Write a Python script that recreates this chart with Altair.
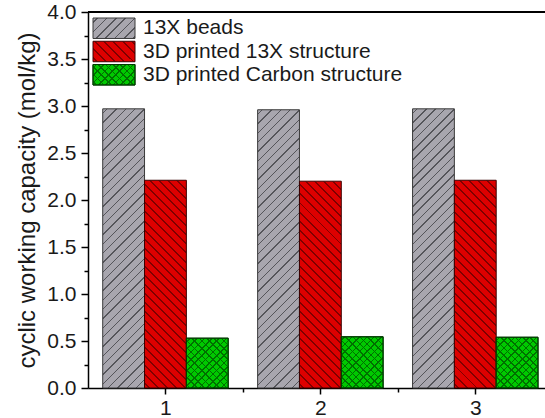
import math
import altair as alt
import pandas as pd

# ---------------- data ----------------
cycles = [1, 2, 3]
series = ["13X beads", "3D printed 13X structure", "3D printed Carbon structure"]
beads = [2.97, 2.96, 2.97]
printed_13x = [2.21, 2.20, 2.21]
printed_carbon = [0.53, 0.545, 0.54]
y_major = [0.0, 0.5, 1.0, 1.5, 2.0, 2.5, 3.0, 3.5, 4.0]
y_minor = [0.25, 0.75, 1.25, 1.75, 2.25, 2.75, 3.25, 3.75]
x_major = [1, 2, 3]
x_minor = [1.5, 2.5]

values_by_series = dict(zip(series, [beads, printed_13x, printed_carbon]))
rows = []
for i, c in enumerate(cycles):
    for s in series:
        rows.append({"cycle": c, "series": s, "value": values_by_series[s][i]})
df = pd.DataFrame(rows)
legend_df = pd.DataFrame({"series": series})

# ---------------- geometry / style ----------------
W, H = 457, 376
XMIN, XMAX = 0.5, 3.45
YMAX = 4.0
PX = W / (XMAX - XMIN)
PY = H / YMAX
BAR = 0.27
offsets = dict(zip(series, [-BAR, 0.0, BAR]))
FONT = "Liberation Sans"

styles = {
    "13X beads": dict(base="#a8a6ae", line="#55555a", dirs=["/"], sp=6.6, lw=1.0, stroke="#3a3a3a"),
    "3D printed 13X structure": dict(base="#de0000", line="#800000", dirs=["\\"], sp=6.4, lw=1.4, stroke="#3a0000"),
    "3D printed Carbon structure": dict(base="#00c900", line="#007000", dirs=["/", "\\"], sp=5.2, lw=1.1, stroke="#003a00"),
}


def hatch(base, line, w, h, d, sp, lw):
    L = w + h
    dt = sp * math.sqrt(2) / L
    lt = lw * math.sqrt(2) / L
    stops = [{"offset": 0, "color": base}]
    t = dt / 2
    while t + lt / 2 < 1:
        a = max(t - lt / 2, 0.0)
        b = t + lt / 2
        stops += [
            {"offset": round(a, 5), "color": base},
            {"offset": round(a, 5), "color": line},
            {"offset": round(b, 5), "color": line},
            {"offset": round(b, 5), "color": base},
        ]
        t += dt
    stops.append({"offset": 1, "color": base})
    k = L / (w * w + h * h)
    if d == "/":
        x1, y1, x2, y2 = 0, 0, k * w, k * h
    else:
        x1, y1, x2, y2 = 0, 1, k * w, 1 - k * h
    return {"gradient": "linear", "x1": x1, "y1": y1, "x2": x2, "y2": y2, "stops": stops}


xscale = alt.Scale(domain=[XMIN, XMAX], nice=False, zero=False)
yscale = alt.Scale(domain=[0, YMAX], nice=False)
base = alt.Chart(df)

layers = []
for s in series:
    st = styles[s]
    off = offsets[s]
    for ci, c in enumerate(cycles):
        v = values_by_series[s][ci]
        w = BAR * PX
        h = v * PY
        for hi, d in enumerate(st["dirs"]):
            fill = hatch(st["base"] if hi == 0 else "rgba(0,0,0,0)", st["line"], w, h, d, st["sp"], st["lw"])
            layers.append(
                base.transform_filter(f"datum.series == '{s}' && datum.cycle == {c}")
                .transform_calculate(x0=f"datum.cycle + {off - BAR / 2}", x1=f"datum.cycle + {off + BAR / 2}")
                .mark_rect(fill=fill, stroke=st["stroke"], strokeWidth=1)
                .encode(
                    x=alt.X("x0:Q", scale=xscale, axis=None),
                    x2="x1:Q",
                    y=alt.Y("value:Q", scale=yscale, axis=None),
                    y2=alt.datum(0),
                )
            )

axis_major = base.mark_point(opacity=0).encode(
    x=alt.X("cycle:Q", scale=xscale, axis=alt.Axis(
        orient="bottom", values=x_major, format="d", tickSize=6, tickWidth=1.5, tickColor="#000",
        domainColor="#000", domainWidth=1.5, labelFont=FONT, labelFontSize=21, labelColor="#1a1a1a",
        labelPadding=3, grid=False, title=None)),
    y=alt.Y("value:Q", scale=yscale, axis=alt.Axis(
        orient="left", values=y_major, format=".1f", tickSize=7, tickWidth=1.5, tickColor="#000",
        domainColor="#000", domainWidth=1.5, labelFont=FONT, labelFontSize=21, labelColor="#1a1a1a",
        labelPadding=5, grid=False, title="cyclic working capacity (mol/kg)", titleFont=FONT,
        titleFontSize=24, titleFontWeight="normal", titleColor="#1a1a1a", titlePadding=7)),
)
axis_minor = base.mark_point(opacity=0).encode(
    x=alt.X("cycle:Q", scale=xscale, axis=alt.Axis(
        orient="bottom", values=x_minor, labels=False, domain=False, tickSize=4, tickWidth=1.5,
        tickColor="#000", grid=False, title=None)),
    y=alt.Y("value:Q", scale=yscale, axis=alt.Axis(
        orient="left", values=y_minor, labels=False, domain=False, tickSize=4, tickWidth=1.5,
        tickColor="#000", grid=False, title=None)),
)

frame = base.mark_rule(color="#000", strokeWidth=1.5).encode(
    x=alt.value(0), x2=alt.value(W), y=alt.value(0)
)

plot = alt.layer(*layers, axis_major, axis_minor, frame).resolve_axis(x="independent", y="independent")

# ---------------- legend ----------------
lscale = alt.Scale(domain=series, range=[6, 73], paddingInner=0.12, paddingOuter=0)
lbase = alt.Chart(legend_df)
leg_layers = []
for s in series:
    st = styles[s]
    for hi, d in enumerate(st["dirs"]):
        fill = hatch(st["base"] if hi == 0 else "rgba(0,0,0,0)", st["line"], 42, 20.5, d, st["sp"], st["lw"])
        leg_layers.append(
            lbase.transform_filter(f"datum.series == '{s}'")
            .mark_rect(fill=fill, stroke=st["stroke"], strokeWidth=1)
            .encode(
                y=alt.Y("series:N", scale=lscale, axis=None, sort=series),
                x=alt.value(5), x2=alt.value(47),
            )
        )
leg_text = lbase.mark_text(align="left", baseline="middle", font=FONT, fontSize=21, color="#1a1a1a").encode(
    y=alt.Y("series:N", scale=lscale, axis=None, sort=series),
    x=alt.value(55),
    text="series:N",
)
legend = alt.layer(*leg_layers, leg_text)

chart = alt.layer(plot, legend).resolve_scale(y="independent").properties(
    width=W, height=H,
    autosize=alt.AutoSizeParams(type="none"),
    padding={"left": 88, "top": 12, "right": 0, "bottom": 30},
).configure_view(strokeWidth=0).configure(background="white")

chart.save("out.html", embed_options={"renderer": "svg", "actions": False})
